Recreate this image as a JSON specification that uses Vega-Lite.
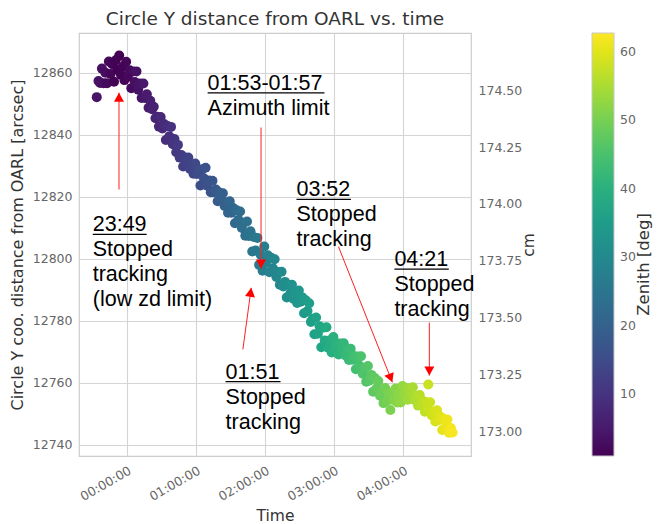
{
  "$schema": "https://vega.github.io/schema/vega-lite/v6.json",
  "width": 392,
  "height": 423,
  "autosize": {"type": "none"},
  "padding": {"left": 79, "top": 33, "right": 188, "bottom": 68},
  "background": "white",
  "title": {"text": "Circle Y distance from OARL vs. time", "fontSize": 18.5, "font": "DejaVu Sans", "fontWeight": "normal", "color": "#333", "offset": 5},
  "config": {
    "view": {"stroke": "#cccccc", "strokeWidth": 1.2},
    "axis": {"labelFont": "DejaVu Sans", "labelFontSize": 12.5, "labelColor": "#666", "titleFont": "DejaVu Sans", "titleFontSize": 15.5, "titleColor": "#333", "titleFontWeight": "normal", "gridColor": "#d4d4d4", "gridWidth": 1.1, "ticks": false, "domain": false},
    "legend": {"labelFont": "DejaVu Sans", "labelFontSize": 12.5, "labelColor": "#666", "titleFont": "DejaVu Sans", "titleFontSize": 13.5, "titleColor": "#333", "titleFontWeight": "normal"}
  },
  "resolve": {"scale": {"y": "independent"}},
  "layer": [
    {
      "layer": [
        {
          "data": {"values": [
{"time":"2021-01-01T23:34:00","arcsec":12852.2,"zenith":4.2},
{"time":"2021-01-01T23:35:30","arcsec":12857.4,"zenith":3.9},
{"time":"2021-01-01T23:37:00","arcsec":12856.8,"zenith":3.6},
{"time":"2021-01-01T23:38:30","arcsec":12861.4,"zenith":3.3},
{"time":"2021-01-01T23:40:00","arcsec":12856.7,"zenith":3.0},
{"time":"2021-01-01T23:41:30","arcsec":12860.1,"zenith":2.7},
{"time":"2021-01-01T23:43:00","arcsec":12856.7,"zenith":2.4},
{"time":"2021-01-01T23:44:30","arcsec":12863.7,"zenith":2.1},
{"time":"2021-01-01T23:46:00","arcsec":12859.7,"zenith":1.8},
{"time":"2021-01-01T23:47:30","arcsec":12862.8,"zenith":1.5},
{"time":"2021-01-01T23:49:00","arcsec":12857.2,"zenith":1.3},
{"time":"2021-01-01T23:50:30","arcsec":12864.1,"zenith":1.1},
{"time":"2021-01-01T23:52:00","arcsec":12861.0,"zenith":1.0},
{"time":"2021-01-01T23:53:30","arcsec":12865.6,"zenith":1.0},
{"time":"2021-01-01T23:55:00","arcsec":12859.4,"zenith":1.1},
{"time":"2021-01-01T23:56:30","arcsec":12862.0,"zenith":1.3},
{"time":"2021-01-01T23:58:00","arcsec":12857.7,"zenith":1.5},
{"time":"2021-01-01T23:59:30","arcsec":12863.6,"zenith":1.7},
{"time":"2021-01-02T00:01:00","arcsec":12858.7,"zenith":2.0},
{"time":"2021-01-02T00:02:30","arcsec":12860.9,"zenith":2.3},
{"time":"2021-01-02T00:04:00","arcsec":12855.1,"zenith":2.6},
{"time":"2021-01-02T00:05:30","arcsec":12860.5,"zenith":2.9},
{"time":"2021-01-02T00:07:00","arcsec":12857.1,"zenith":3.2},
{"time":"2021-01-02T00:08:30","arcsec":12860.5,"zenith":3.5},
{"time":"2021-01-02T00:10:00","arcsec":12854.6,"zenith":3.8},
{"time":"2021-01-02T00:11:30","arcsec":12856.6,"zenith":4.1},
{"time":"2021-01-02T00:13:00","arcsec":12851.9,"zenith":4.4},
{"time":"2021-01-02T00:14:30","arcsec":12856.6,"zenith":4.7},
{"time":"2021-01-02T00:16:00","arcsec":12851.9,"zenith":5.0},
{"time":"2021-01-02T00:17:30","arcsec":12853.1,"zenith":5.3},
{"time":"2021-01-02T00:19:00","arcsec":12848.8,"zenith":5.7},
{"time":"2021-01-02T00:20:30","arcsec":12851.0,"zenith":5.9},
{"time":"2021-01-02T00:22:00","arcsec":12848.3,"zenith":6.2},
{"time":"2021-01-02T00:23:30","arcsec":12849.1,"zenith":6.5},
{"time":"2021-01-02T00:25:00","arcsec":12845.4,"zenith":6.9},
{"time":"2021-01-02T00:26:30","arcsec":12845.9,"zenith":7.2},
{"time":"2021-01-02T00:28:00","arcsec":12842.7,"zenith":7.5},
{"time":"2021-01-02T00:29:30","arcsec":12845.8,"zenith":7.8},
{"time":"2021-01-02T00:31:00","arcsec":12842.1,"zenith":8.2},
{"time":"2021-01-02T00:32:30","arcsec":12843.5,"zenith":8.5},
{"time":"2021-01-02T00:34:00","arcsec":12838.4,"zenith":8.8},
{"time":"2021-01-02T00:35:30","arcsec":12842.9,"zenith":9.1},
{"time":"2021-01-02T00:37:00","arcsec":12839.6,"zenith":9.4},
{"time":"2021-01-02T00:38:30","arcsec":12842.6,"zenith":9.8},
{"time":"2021-01-02T00:40:00","arcsec":12837.0,"zenith":10.1},
{"time":"2021-01-02T00:41:30","arcsec":12838.7,"zenith":10.4},
{"time":"2021-01-02T00:43:00","arcsec":12834.4,"zenith":10.7},
{"time":"2021-01-02T00:44:30","arcsec":12836.8,"zenith":11.0},
{"time":"2021-01-02T00:46:00","arcsec":12832.7,"zenith":11.4},
{"time":"2021-01-02T00:47:30","arcsec":12833.5,"zenith":11.7},
{"time":"2021-01-02T00:49:00","arcsec":12829.8,"zenith":12.0},
{"time":"2021-01-02T00:50:30","arcsec":12832.7,"zenith":12.3},
{"time":"2021-01-02T00:52:00","arcsec":12830.5,"zenith":12.7},
{"time":"2021-01-02T00:53:30","arcsec":12832.7,"zenith":13.0},
{"time":"2021-01-02T00:55:00","arcsec":12829.0,"zenith":13.3},
{"time":"2021-01-02T00:56:30","arcsec":12830.2,"zenith":13.6},
{"time":"2021-01-02T00:58:00","arcsec":12827.5,"zenith":13.9},
{"time":"2021-01-02T00:59:30","arcsec":12830.8,"zenith":14.3},
{"time":"2021-01-02T01:01:00","arcsec":12827.4,"zenith":14.6},
{"time":"2021-01-02T01:02:30","arcsec":12828.8,"zenith":14.9},
{"time":"2021-01-02T01:04:00","arcsec":12823.7,"zenith":15.2},
{"time":"2021-01-02T01:05:30","arcsec":12828.9,"zenith":15.6},
{"time":"2021-01-02T01:07:00","arcsec":12826.0,"zenith":15.9},
{"time":"2021-01-02T01:08:30","arcsec":12829.4,"zenith":16.2},
{"time":"2021-01-02T01:10:00","arcsec":12823.6,"zenith":16.5},
{"time":"2021-01-02T01:11:30","arcsec":12825.3,"zenith":16.8},
{"time":"2021-01-02T01:13:00","arcsec":12821.5,"zenith":17.2},
{"time":"2021-01-02T01:14:30","arcsec":12825.2,"zenith":17.5},
{"time":"2021-01-02T01:16:00","arcsec":12821.5,"zenith":17.8},
{"time":"2021-01-02T01:17:30","arcsec":12822.4,"zenith":18.1},
{"time":"2021-01-02T01:19:00","arcsec":12818.6,"zenith":18.4},
{"time":"2021-01-02T01:20:30","arcsec":12821.4,"zenith":18.8},
{"time":"2021-01-02T01:22:00","arcsec":12819.2,"zenith":19.1},
{"time":"2021-01-02T01:23:30","arcsec":12821.2,"zenith":19.4},
{"time":"2021-01-02T01:25:00","arcsec":12817.1,"zenith":19.7},
{"time":"2021-01-02T01:26:30","arcsec":12818.2,"zenith":20.1},
{"time":"2021-01-02T01:28:00","arcsec":12814.9,"zenith":20.4},
{"time":"2021-01-02T01:29:30","arcsec":12818.6,"zenith":20.7},
{"time":"2021-01-02T01:31:00","arcsec":12814.9,"zenith":21.0},
{"time":"2021-01-02T01:32:30","arcsec":12816.4,"zenith":21.3},
{"time":"2021-01-02T01:34:00","arcsec":12811.5,"zenith":21.7},
{"time":"2021-01-02T01:35:30","arcsec":12815.7,"zenith":22.0},
{"time":"2021-01-02T01:37:00","arcsec":12812.6,"zenith":22.3},
{"time":"2021-01-02T01:38:30","arcsec":12815.3,"zenith":22.6},
{"time":"2021-01-02T01:40:00","arcsec":12810.0,"zenith":23.0},
{"time":"2021-01-02T01:41:30","arcsec":12811.7,"zenith":23.3},
{"time":"2021-01-02T01:43:00","arcsec":12807.5,"zenith":23.6},
{"time":"2021-01-02T01:44:30","arcsec":12812.1,"zenith":23.9},
{"time":"2021-01-02T01:46:00","arcsec":12807.4,"zenith":24.2},
{"time":"2021-01-02T01:47:30","arcsec":12808.9,"zenith":24.6},
{"time":"2021-01-02T01:49:00","arcsec":12802.4,"zenith":24.9},
{"time":"2021-01-02T01:50:30","arcsec":12807.1,"zenith":25.2},
{"time":"2021-01-02T01:52:00","arcsec":12802.7,"zenith":25.5},
{"time":"2021-01-02T01:53:30","arcsec":12806.8,"zenith":25.9},
{"time":"2021-01-02T01:55:00","arcsec":12798.1,"zenith":26.2},
{"time":"2021-01-02T01:56:30","arcsec":12801.3,"zenith":26.5},
{"time":"2021-01-02T01:58:00","arcsec":12796.2,"zenith":26.8},
{"time":"2021-01-02T01:59:30","arcsec":12804.0,"zenith":27.1},
{"time":"2021-01-02T02:01:00","arcsec":12798.7,"zenith":27.5},
{"time":"2021-01-02T02:02:30","arcsec":12801.2,"zenith":27.8},
{"time":"2021-01-02T02:04:00","arcsec":12795.7,"zenith":28.1},
{"time":"2021-01-02T02:05:30","arcsec":12800.4,"zenith":28.4},
{"time":"2021-01-02T02:07:00","arcsec":12797.0,"zenith":28.7},
{"time":"2021-01-02T02:08:30","arcsec":12799.9,"zenith":29.1},
{"time":"2021-01-02T02:10:00","arcsec":12794.2,"zenith":29.4},
{"time":"2021-01-02T02:11:30","arcsec":12795.8,"zenith":29.7},
{"time":"2021-01-02T02:13:00","arcsec":12791.7,"zenith":30.0},
{"time":"2021-01-02T02:14:30","arcsec":12795.9,"zenith":30.4},
{"time":"2021-01-02T02:16:00","arcsec":12791.1,"zenith":30.7},
{"time":"2021-01-02T02:17:30","arcsec":12792.6,"zenith":31.0},
{"time":"2021-01-02T02:19:00","arcsec":12787.6,"zenith":31.3},
{"time":"2021-01-02T02:20:30","arcsec":12791.6,"zenith":31.6},
{"time":"2021-01-02T02:22:00","arcsec":12788.8,"zenith":32.0},
{"time":"2021-01-02T02:23:30","arcsec":12791.7,"zenith":32.3},
{"time":"2021-01-02T02:25:00","arcsec":12787.1,"zenith":32.6},
{"time":"2021-01-02T02:26:30","arcsec":12788.8,"zenith":32.9},
{"time":"2021-01-02T02:28:00","arcsec":12785.8,"zenith":33.3},
{"time":"2021-01-02T02:29:30","arcsec":12789.8,"zenith":33.6},
{"time":"2021-01-02T02:31:00","arcsec":12786.2,"zenith":33.9},
{"time":"2021-01-02T02:32:30","arcsec":12787.6,"zenith":34.2},
{"time":"2021-01-02T02:34:00","arcsec":12782.5,"zenith":34.5},
{"time":"2021-01-02T02:35:30","arcsec":12786.7,"zenith":34.9},
{"time":"2021-01-02T02:37:00","arcsec":12783.2,"zenith":35.2},
{"time":"2021-01-02T02:38:30","arcsec":12785.7,"zenith":35.5},
{"time":"2021-01-02T02:40:00","arcsec":12779.7,"zenith":35.8},
{"time":"2021-01-02T02:41:30","arcsec":12780.7,"zenith":36.1},
{"time":"2021-01-02T02:43:00","arcsec":12775.7,"zenith":36.5},
{"time":"2021-01-02T02:44:30","arcsec":12781.1,"zenith":36.8},
{"time":"2021-01-02T02:46:00","arcsec":12775.9,"zenith":37.1},
{"time":"2021-01-02T02:47:30","arcsec":12778.3,"zenith":37.4},
{"time":"2021-01-02T02:49:00","arcsec":12771.5,"zenith":37.8},
{"time":"2021-01-02T02:50:30","arcsec":12777.8,"zenith":38.1},
{"time":"2021-01-02T02:52:00","arcsec":12773.7,"zenith":38.4},
{"time":"2021-01-02T02:53:30","arcsec":12778.0,"zenith":38.7},
{"time":"2021-01-02T02:55:00","arcsec":12771.4,"zenith":39.0},
{"time":"2021-01-02T02:56:30","arcsec":12773.8,"zenith":39.4},
{"time":"2021-01-02T02:58:00","arcsec":12769.8,"zenith":39.7},
{"time":"2021-01-02T02:59:30","arcsec":12774.8,"zenith":40.0},
{"time":"2021-01-02T03:01:00","arcsec":12771.0,"zenith":40.3},
{"time":"2021-01-02T03:02:30","arcsec":12772.8,"zenith":40.6},
{"time":"2021-01-02T03:04:00","arcsec":12769.2,"zenith":41.0},
{"time":"2021-01-02T03:05:30","arcsec":12772.7,"zenith":41.3},
{"time":"2021-01-02T03:07:00","arcsec":12770.5,"zenith":41.6},
{"time":"2021-01-02T03:08:30","arcsec":12772.8,"zenith":41.9},
{"time":"2021-01-02T03:10:00","arcsec":12768.9,"zenith":42.3},
{"time":"2021-01-02T03:11:30","arcsec":12770.3,"zenith":42.6},
{"time":"2021-01-02T03:13:00","arcsec":12767.4,"zenith":42.9},
{"time":"2021-01-02T03:14:30","arcsec":12771.0,"zenith":43.2},
{"time":"2021-01-02T03:16:00","arcsec":12767.5,"zenith":43.5},
{"time":"2021-01-02T03:17:30","arcsec":12768.7,"zenith":43.9},
{"time":"2021-01-02T03:19:00","arcsec":12764.4,"zenith":44.2},
{"time":"2021-01-02T03:20:30","arcsec":12768.5,"zenith":44.5},
{"time":"2021-01-02T03:22:00","arcsec":12765.6,"zenith":44.8},
{"time":"2021-01-02T03:23:30","arcsec":12768.6,"zenith":45.2},
{"time":"2021-01-02T03:25:00","arcsec":12763.0,"zenith":45.5},
{"time":"2021-01-02T03:26:30","arcsec":12764.9,"zenith":45.8},
{"time":"2021-01-02T03:28:00","arcsec":12760.4,"zenith":46.1},
{"time":"2021-01-02T03:29:30","arcsec":12765.5,"zenith":46.4},
{"time":"2021-01-02T03:31:00","arcsec":12760.8,"zenith":46.8},
{"time":"2021-01-02T03:32:30","arcsec":12762.6,"zenith":47.1},
{"time":"2021-01-02T03:34:00","arcsec":12757.2,"zenith":47.4},
{"time":"2021-01-02T03:35:30","arcsec":12761.6,"zenith":47.7},
{"time":"2021-01-02T03:37:00","arcsec":12758.3,"zenith":48.0},
{"time":"2021-01-02T03:38:30","arcsec":12760.6,"zenith":48.4},
{"time":"2021-01-02T03:40:00","arcsec":12755.9,"zenith":48.7},
{"time":"2021-01-02T03:41:30","arcsec":12757.2,"zenith":49.0},
{"time":"2021-01-02T03:43:00","arcsec":12753.5,"zenith":49.3},
{"time":"2021-01-02T03:44:30","arcsec":12758.4,"zenith":49.7},
{"time":"2021-01-02T03:46:00","arcsec":12754.2,"zenith":50.0},
{"time":"2021-01-02T03:47:30","arcsec":12756.6,"zenith":50.3},
{"time":"2021-01-02T03:49:00","arcsec":12751.3,"zenith":50.6},
{"time":"2021-01-02T03:50:30","arcsec":12757.0,"zenith":50.9},
{"time":"2021-01-02T03:52:00","arcsec":12754.4,"zenith":51.3},
{"time":"2021-01-02T03:53:30","arcsec":12758.2,"zenith":51.6},
{"time":"2021-01-02T03:55:00","arcsec":12753.7,"zenith":51.9},
{"time":"2021-01-02T03:56:30","arcsec":12756.4,"zenith":52.2},
{"time":"2021-01-02T03:58:00","arcsec":12753.7,"zenith":52.6},
{"time":"2021-01-02T03:59:30","arcsec":12759.0,"zenith":52.9},
{"time":"2021-01-02T04:01:00","arcsec":12756.4,"zenith":53.2},
{"time":"2021-01-02T04:02:30","arcsec":12758.2,"zenith":53.5},
{"time":"2021-01-02T04:04:00","arcsec":12754.6,"zenith":53.8},
{"time":"2021-01-02T04:05:30","arcsec":12758.4,"zenith":54.2},
{"time":"2021-01-02T04:07:00","arcsec":12756.1,"zenith":54.5},
{"time":"2021-01-02T04:08:30","arcsec":12758.6,"zenith":54.8},
{"time":"2021-01-02T04:10:00","arcsec":12754.5,"zenith":55.1},
{"time":"2021-01-02T04:11:30","arcsec":12755.8,"zenith":55.5},
{"time":"2021-01-02T04:13:00","arcsec":12752.7,"zenith":55.8},
{"time":"2021-01-02T04:14:30","arcsec":12756.1,"zenith":56.1},
{"time":"2021-01-02T04:16:00","arcsec":12753.0,"zenith":56.4},
{"time":"2021-01-02T04:17:30","arcsec":12754.2,"zenith":56.7},
{"time":"2021-01-02T04:19:00","arcsec":12750.7,"zenith":57.1},
{"time":"2021-01-02T04:20:30","arcsec":12753.8,"zenith":57.4},
{"time":"2021-01-02T04:21:54","arcsec":12759.5,"zenith":57.7},
{"time":"2021-01-02T04:22:00","arcsec":12751.5,"zenith":57.7},
{"time":"2021-01-02T04:23:30","arcsec":12753.8,"zenith":58.0},
{"time":"2021-01-02T04:25:00","arcsec":12749.5,"zenith":58.3},
{"time":"2021-01-02T04:26:30","arcsec":12750.8,"zenith":58.7},
{"time":"2021-01-02T04:28:00","arcsec":12747.6,"zenith":59.0},
{"time":"2021-01-02T04:29:30","arcsec":12751.2,"zenith":59.3},
{"time":"2021-01-02T04:31:00","arcsec":12748.0,"zenith":59.6},
{"time":"2021-01-02T04:32:30","arcsec":12749.1,"zenith":60.0},
{"time":"2021-01-02T04:34:00","arcsec":12744.8,"zenith":60.3},
{"time":"2021-01-02T04:35:30","arcsec":12748.4,"zenith":60.6},
{"time":"2021-01-02T04:37:00","arcsec":12745.6,"zenith":60.9},
{"time":"2021-01-02T04:38:30","arcsec":12748.2,"zenith":61.2},
{"time":"2021-01-02T04:40:00","arcsec":12743.9,"zenith":61.6},
{"time":"2021-01-02T04:41:30","arcsec":12745.5,"zenith":61.9},
{"time":"2021-01-02T04:43:00","arcsec":12744.0,"zenith":62.2}
          ]},
          "mark": {"type": "point", "filled": true, "opacity": 1, "size": 100},
          "encoding": {
            "x": {"field": "time", "type": "temporal",
                  "scale": {"domain": [{"year": 2021, "month": 1, "date": 1, "hours": 23, "minutes": 18, "seconds": 35}, {"year": 2021, "month": 1, "date": 2, "hours": 4, "minutes": 59, "seconds": 0}]},
                  "axis": {"title": "Time", "format": "%H:%M:%S", "labelAngle": -30, "labelAlign": "right", "labelBaseline": "top", "labelPadding": 8, "titlePadding": 6,
                           "values": [{"year": 2021, "month": 1, "date": 2, "hours": 0}, {"year": 2021, "month": 1, "date": 2, "hours": 1}, {"year": 2021, "month": 1, "date": 2, "hours": 2}, {"year": 2021, "month": 1, "date": 2, "hours": 3}, {"year": 2021, "month": 1, "date": 2, "hours": 4}]}},
            "y": {"field": "arcsec", "type": "quantitative",
                  "scale": {"domain": [12736.44, 12872.89], "nice": false, "zero": false},
                  "axis": {"title": "Circle Y coo. distance from OARL [arcsec]", "titleFontSize": 16, "values": [12740, 12760, 12780, 12800, 12820, 12840, 12860], "format": "d", "labelPadding": 7, "titlePadding": 7}},
            "color": {"field": "zenith", "type": "quantitative",
                      "scale": {"scheme": "viridis", "domain": [0.95, 62.77], "nice": false, "zero": false},
                      "legend": {"title": null, "orient": "none", "legendX": 513, "legendY": 0, "direction": "vertical", "gradientLength": 423, "gradientThickness": 22, "gradientStrokeColor": "#c8c8c8", "gradientStrokeWidth": 1, "values": [10, 20, 30, 40, 50, 60], "labelOffset": 6, "labelOverlap": false}}
          }
        },
        {
          "data": {"values": [
            {"t1": "2021-01-01T23:53:19", "v1": 12822.4, "t2": "2021-01-01T23:53:19", "v2": 12853.65},
            {"t1": "2021-01-02T01:56:40", "v1": 12842.4, "t2": "2021-01-02T01:56:40", "v2": 12796.9},
            {"t1": "2021-01-02T03:03:53", "v1": 12804.0, "t2": "2021-01-02T03:50:43", "v2": 12760.2},
            {"t1": "2021-01-02T04:22:49", "v1": 12779.5, "t2": "2021-01-02T04:22:49", "v2": 12762.4},
            {"t1": "2021-01-02T01:40:53", "v1": 12770.8, "t2": "2021-01-02T01:48:10", "v2": 12790.7}
          ]},
          "mark": {"type": "rule", "color": "#ff2020", "strokeWidth": 1},
          "encoding": {
            "x": {"field": "t1", "type": "temporal"},
            "x2": {"field": "t2"},
            "y": {"field": "v1", "type": "quantitative"},
            "y2": {"field": "v2"}
          }
        },
        {
          "data": {"values": [
            {"t": "2021-01-01T23:53:19", "v": 12853.65, "angle": 0},
            {"t": "2021-01-02T01:56:40", "v": 12796.9, "angle": 180},
            {"t": "2021-01-02T03:50:43", "v": 12760.2, "angle": 158},
            {"t": "2021-01-02T04:22:49", "v": 12762.4, "angle": 180},
            {"t": "2021-01-02T01:48:10", "v": 12790.7, "angle": 8}
          ]},
          "mark": {"type": "point", "shape": "M0,0L-1,1.8L1,1.8Z", "filled": true, "color": "#ff0000", "opacity": 1, "size": 100},
          "encoding": {
            "x": {"field": "t", "type": "temporal"},
            "y": {"field": "v", "type": "quantitative"},
            "angle": {"field": "angle", "type": "quantitative", "scale": null}
          }
        },
        {
          "data": {"values": [
            {"t1": "2021-01-01T23:30:31", "t2": "2021-01-02T00:17:21", "v": 12807.9},
            {"t1": "2021-01-02T01:10:16", "t2": "2021-01-02T02:51:44", "v": 12853.6},
            {"t1": "2021-01-02T02:27:27", "t2": "2021-01-02T03:14:43", "v": 12819.2},
            {"t1": "2021-01-02T03:52:28", "t2": "2021-01-02T04:39:44", "v": 12796.7},
            {"t1": "2021-01-02T01:25:52", "t2": "2021-01-02T02:13:35", "v": 12760.4}
          ]},
          "mark": {"type": "rule", "color": "black", "strokeWidth": 1.3},
          "encoding": {
            "x": {"field": "t1", "type": "temporal"},
            "x2": {"field": "t2"},
            "y": {"field": "v", "type": "quantitative"}
          }
        },
        {
          "data": {"values": [
            {"t": "2021-01-01T23:30:31", "v": 12808.9, "lines": ["23:49", "Stopped", "tracking", "(low zd limit)"]},
            {"t": "2021-01-02T01:10:16", "v": 12854.6, "lines": ["01:53-01:57", "Azimuth limit"]},
            {"t": "2021-01-02T02:27:27", "v": 12820.2, "lines": ["03:52", "Stopped", "tracking"]},
            {"t": "2021-01-02T03:52:28", "v": 12797.7, "lines": ["04:21", "Stopped", "tracking"]},
            {"t": "2021-01-02T01:25:52", "v": 12761.4, "lines": ["01:51", "Stopped", "tracking"]}
          ]},
          "mark": {"type": "text", "align": "left", "baseline": "alphabetic", "font": "Liberation Sans", "fontSize": 21.5, "lineHeight": 25, "color": "black"},
          "encoding": {
            "x": {"field": "t", "type": "temporal"},
            "y": {"field": "v", "type": "quantitative"},
            "text": {"field": "lines"}
          }
        }
      ]
    },
    {
      "data": {"values": [{"cm": 173.0}]},
      "mark": {"type": "point", "opacity": 0},
      "encoding": {
        "y": {"field": "cm", "type": "quantitative",
              "scale": {"domain": [172.89, 174.7525], "nice": false, "zero": false},
              "axis": {"orient": "right", "title": "cm", "titleAngle": 270, "grid": false, "format": ".2f", "values": [173.0, 173.25, 173.5, 173.75, 174.0, 174.25, 174.5], "labelPadding": 7, "titlePadding": 15}}
      }
    },
    {
      "data": {"values": [{"deg": 0}]},
      "mark": {"type": "point", "opacity": 0},
      "encoding": {
        "y": {"field": "deg", "type": "quantitative",
              "scale": {"domain": [0, 1]},
              "axis": {"orient": "right", "title": "Zenith [deg]", "titleFontSize": 16.5, "titleAngle": 270, "grid": false, "labels": false, "ticks": false, "domain": false, "offset": 180, "titlePadding": 0, "titleY": 231}}
      }
    }
  ]
}
